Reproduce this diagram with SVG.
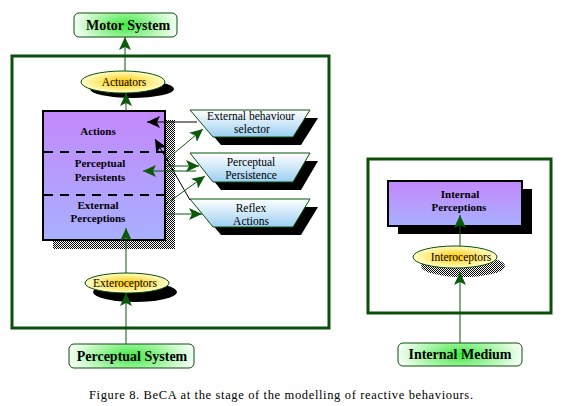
<svg xmlns="http://www.w3.org/2000/svg" width="567" height="406" viewBox="0 0 567 406">
<defs>
<style>
.frame{fill:none;stroke:#0b4f0b;stroke-width:3}
.sys{fill:url(#gSys);stroke:#0b4f0b;stroke-width:1}
.ell{fill:url(#gEll);stroke:#0b4f0b;stroke-width:1}
.box{fill:url(#gBox);stroke:#000;stroke-width:2}
.trap{fill:url(#gTrap);stroke:#0b4f0b;stroke-width:1}
.shadow{fill:#000}
.dither{fill:url(#dither)}
.dash{stroke:#000;stroke-width:2;stroke-dasharray:9 7}
.g{stroke:#0b5a0b;stroke-width:1;fill:none;marker-end:url(#ag)}
.k{stroke:#000;stroke-width:1;fill:none;marker-end:url(#ak)}
text{font-family:"Liberation Serif","Times New Roman",serif;fill:#000;text-anchor:middle}
.big{font-size:14px;font-weight:bold}
.lb{font-size:11px;font-weight:bold}
.ln{font-size:11.5px}
.cap{font-size:12.5px;text-anchor:start}
</style>
<radialGradient id="gSys" cx="0.5" cy="0.5" r="0.5" fx="0.5" fy="0.5" gradientTransform="translate(0.5 0.5) scale(1 2) translate(-0.5 -0.5)">
<stop offset="0" stop-color="#3fe83f"/>
<stop offset="1" stop-color="#f2fff2"/>
</radialGradient>
<radialGradient id="gEll" cx="0.5" cy="0.5" r="0.5">
<stop offset="0" stop-color="#ffc800"/>
<stop offset="1" stop-color="#ffffc8"/>
</radialGradient>
<linearGradient id="gBox" x1="0" y1="0" x2="0" y2="1">
<stop offset="0" stop-color="#c388fb"/>
<stop offset="1" stop-color="#a8b0ff"/>
</linearGradient>
<linearGradient id="gBox2" x1="0" y1="0" x2="0" y2="1">
<stop offset="0" stop-color="#c388fb"/>
<stop offset="1" stop-color="#a8b0ff"/>
</linearGradient>
<linearGradient id="gTrap" x1="0" y1="0" x2="0" y2="1">
<stop offset="0" stop-color="#ffffff"/>
<stop offset="1" stop-color="#9ccff2"/>
</linearGradient>
<pattern id="dither" width="2" height="2" patternUnits="userSpaceOnUse">
<rect width="2" height="2" fill="#fff"/>
<rect x="0" y="0" width="1" height="1" fill="#000"/>
<rect x="1" y="1" width="1" height="1" fill="#000"/>
</pattern>
<marker id="ag" markerWidth="14" markerHeight="12" refX="13" refY="6" orient="auto" markerUnits="userSpaceOnUse">
<path d="M0,0 L13,6 L0,12 L3,6 Z" fill="#0b5a0b"/>
</marker>
<marker id="ak" markerWidth="14" markerHeight="12" refX="13" refY="6" orient="auto" markerUnits="userSpaceOnUse">
<path d="M0,0 L13,6 L0,12 L3,6 Z" fill="#000"/>
</marker>
</defs>
<rect width="567" height="406" fill="#fff"/>

<g id="reactive-frame"><rect class="frame" x="12" y="56" width="317" height="272"/></g>
<g id="internal-frame"><rect class="frame" x="368" y="159" width="183" height="154"/></g>

<g id="motor-system">
<rect class="sys" x="74" y="13" width="103" height="24" rx="5"/>
<text class="big" x="128" y="30">Motor System</text>
</g>

<g id="actuators">
<ellipse class="shadow" cx="132" cy="89" rx="42" ry="9"/>
<ellipse class="ell" cx="123" cy="82" rx="42" ry="11"/>
<text class="ln" x="124" y="86">Actuators</text>
</g>

<g id="behaviour-box">
<rect class="dither" x="53" y="120" width="122" height="129"/>
<rect class="box" x="43" y="111" width="122" height="129"/>
<line class="dash" x1="44" y1="152" x2="164" y2="152"/>
<line class="dash" x1="44" y1="195" x2="164" y2="195"/>
<text class="lb" x="98" y="135">Actions</text>
<text class="lb" x="100" y="167">Perceptual</text>
<text class="lb" x="100" y="181">Persistents</text>
<text class="lb" x="98" y="209">External</text>
<text class="lb" x="98" y="222">Perceptions</text>
</g>

<g id="external-behaviour-selector">
<polygon class="shadow" points="198,118 318,118 301,145 221,145"/>
<polygon class="trap" points="190,110 310,110 293,137 213,137"/>
<text class="ln" x="251" y="120">External behaviour</text>
<text class="ln" x="252" y="133">selector</text>
</g>

<g id="perceptual-persistence">
<polygon class="shadow" points="198,161 318,161 301,190 221,190"/>
<polygon class="trap" points="190,153 310,153 293,182 213,182"/>
<text class="ln" x="251" y="166">Perceptual</text>
<text class="ln" x="251" y="179">Persistence</text>
</g>

<g id="reflex-actions">
<polygon class="shadow" points="198,207 318,207 301,235 221,235"/>
<polygon class="trap" points="190,199 310,199 293,227 213,227"/>
<text class="ln" x="251" y="212">Reflex</text>
<text class="ln" x="251" y="225">Actions</text>
</g>

<g id="exteroceptors">
<ellipse class="shadow" cx="135" cy="292" rx="42" ry="10"/>
<ellipse class="ell" cx="127" cy="283" rx="42" ry="10"/>
<text class="ln" x="125" y="287">Exteroceptors</text>
</g>

<g id="perceptual-system">
<rect class="sys" x="69" y="344" width="125" height="24" rx="5"/>
<text class="big" x="132" y="361">Perceptual System</text>
</g>

<g id="internal-perceptions">
<rect class="shadow" x="398" y="189" width="134" height="45"/>
<rect class="box" x="388" y="181" width="134" height="45" style="fill:url(#gBox2)"/>
<text class="lb" x="460" y="198">Internal</text>
<text class="lb" x="459" y="211">Perceptions</text>
</g>

<g id="interoceptors">
<ellipse class="dither" cx="463" cy="266" rx="42" ry="11"/>
<ellipse class="ell" cx="455" cy="257" rx="42" ry="11"/>
<text class="ln" x="461" y="261">Interoceptors</text>
</g>

<g id="internal-medium">
<rect class="sys" x="398" y="343" width="124" height="23" rx="5"/>
<text class="big" x="460" y="359">Internal Medium</text>
</g>

<g id="connectors">
<line class="g" x1="125" y1="71" x2="125" y2="37"/>
<line class="g" x1="126" y1="111" x2="126" y2="93"/>
<line class="g" x1="126" y1="273" x2="126" y2="228"/>
<line class="g" x1="126" y1="344" x2="126" y2="293"/>
<line class="g" x1="460" y1="246" x2="460" y2="215"/>
<line class="g" x1="460" y1="343" x2="460" y2="272"/>
<line class="k" x1="197" y1="122" x2="147" y2="122"/>
<line class="k" x1="190" y1="200" x2="155" y2="139"/>
<line class="g" x1="166" y1="160" x2="203" y2="129"/>
<line class="g" x1="166" y1="166" x2="199" y2="166"/>
<line class="g" x1="196" y1="171" x2="143" y2="171"/>
<line class="g" x1="166" y1="204" x2="205" y2="176"/>
<line class="g" x1="166" y1="214" x2="202" y2="214"/>
</g>

<text class="cap" x="89" y="399" textLength="384" lengthAdjust="spacing">Figure 8. BeCA at the stage of the modelling of reactive behaviours.</text>
</svg>
